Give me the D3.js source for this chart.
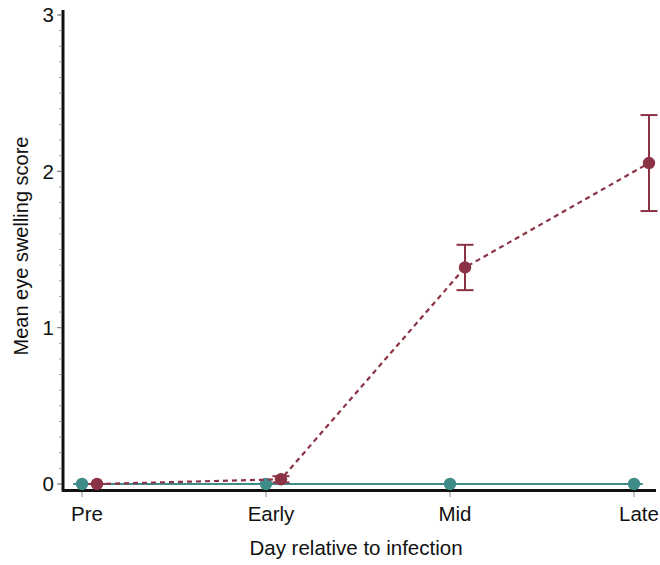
<!DOCTYPE html>
<html>
<head>
<meta charset="utf-8">
<script src="https://cdn.jsdelivr.net/npm/d3@7"></script>
<style>
  body { margin: 0; background: #fff; }
  text { font-family: "Liberation Sans", Arial, sans-serif; fill: #111; }
</style>
</head>
<body>
<script>
// data
var days = ["Pre", "Early", "Mid", "Late"];
var controlMean = [0, 0, 0, 0];
var controlSE = [0, 0, 0, 0];
var infectedMean = [0, 0.03, 1.385, 2.053];
var infectedSE = [0, 0.02, 0.145, 0.307];
var yTicks = [0, 1, 2, 3];

var width = 660, height = 565;
var teal = "#3e8b88", red = "#8b3344";
var dodge = 15;

var svg = d3.select("body").append("svg")
    .attr("width", width)
    .attr("height", height);

var x = d3.scalePoint().domain(days).range([82, 634]);
var y = d3.scaleLinear().domain([0, 3]).range([484, 15]);

// y axis
svg.append("line")
    .attr("x1", 63).attr("x2", 63)
    .attr("y1", 10).attr("y2", 491.5)
    .attr("stroke", "#111").attr("stroke-width", 3);

// minor ticks
svg.selectAll(".minor")
    .data(d3.range(0, 31).map(function(i){ return i / 10; }))
    .enter().append("line")
    .attr("x1", 59).attr("x2", 62)
    .attr("y1", function(d){ return y(d); })
    .attr("y2", function(d){ return y(d); })
    .attr("stroke", "#999").attr("stroke-width", 1);

svg.selectAll(".ytick")
    .data(yTicks)
    .enter().append("line")
    .attr("x1", 57).attr("x2", 62)
    .attr("y1", function(d){ return y(d); })
    .attr("y2", function(d){ return y(d); })
    .attr("stroke", "#777").attr("stroke-width", 1);

svg.selectAll(".ylab")
    .data(yTicks)
    .enter().append("text")
    .attr("x", 54)
    .attr("y", function(d){ return y(d); })
    .attr("dy", "0.36em")
    .attr("text-anchor", "end")
    .style("font-size", "20.5px")
    .text(function(d){ return d; });

// x axis
svg.append("line")
    .attr("x1", 62).attr("x2", 656)
    .attr("y1", 490.5).attr("y2", 490.5)
    .attr("stroke", "#111").attr("stroke-width", 3);

svg.selectAll(".xtick")
    .data(days)
    .enter().append("line")
    .attr("x1", function(d){ return x(d); })
    .attr("x2", function(d){ return x(d); })
    .attr("y1", 492).attr("y2", 497)
    .attr("stroke", "#888").attr("stroke-width", 1);

svg.selectAll(".xlab")
    .data(days)
    .enter().append("text")
    .attr("x", function(d){ return x(d) + 5; })
    .attr("y", 521)
    .attr("text-anchor", "middle")
    .style("font-size", "20.5px")
    .text(function(d){ return d; });

svg.append("text")
    .attr("x", 356).attr("y", 555)
    .attr("text-anchor", "middle")
    .style("font-size", "20.5px")
    .text("Day relative to infection");

svg.append("text")
    .attr("transform", "translate(28,246) rotate(-90)")
    .attr("text-anchor", "middle")
    .style("font-size", "20px")
    .text("Mean eye swelling score");

function drawSeries(means, se, color, offset, dashed) {
    var pts = days.map(function(d, i){
        return { day: d, m: means[i], se: se[i] };
    });
    var line = d3.line()
        .x(function(p){ return x(p.day) + offset; })
        .y(function(p){ return y(p.m); });

    svg.append("path")
        .datum(pts)
        .attr("d", line)
        .attr("fill", "none")
        .attr("stroke", color)
        .attr("stroke-width", 2.2)
        .attr("stroke-dasharray", dashed ? "5,4" : null);

    var g = svg.append("g");
    pts.forEach(function(p){
        var cx = x(p.day) + offset;
        g.append("line")
            .attr("x1", cx).attr("x2", cx)
            .attr("y1", y(p.m - p.se)).attr("y2", y(p.m + p.se))
            .attr("stroke", color).attr("stroke-width", 2);
        [p.m - p.se, p.m + p.se].forEach(function(v){
            g.append("line")
                .attr("x1", cx - 8.5).attr("x2", cx + 8.5)
                .attr("y1", y(v)).attr("y2", y(v))
                .attr("stroke", color).attr("stroke-width", 2);
        });
        g.append("circle")
            .attr("cx", cx).attr("cy", y(p.m))
            .attr("r", 6.2)
            .attr("fill", color);
    });
}

drawSeries(controlMean, controlSE, teal, 0, false);
drawSeries(infectedMean, infectedSE, red, dodge, true);
</script>
</body>
</html>
